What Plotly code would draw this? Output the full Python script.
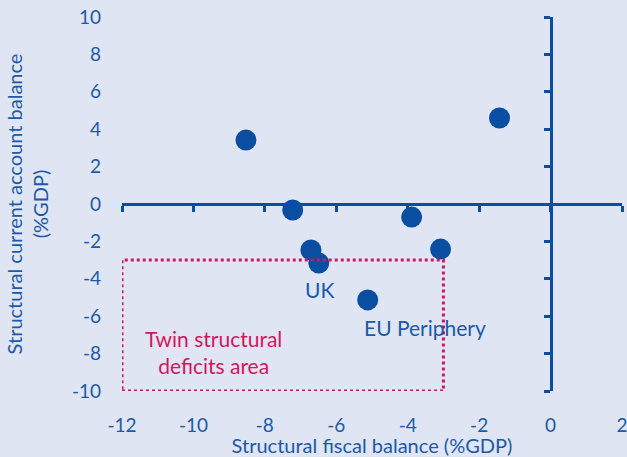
import plotly.graph_objects as go

# Data
fiscal_balance = [-8.53, -7.22, -6.71, -6.49, -5.12, -3.89, -3.08, -1.43]
current_account = [3.42, -0.32, -2.46, -3.16, -5.13, -0.70, -2.41, 4.60]
x_ticks = [-12, -10, -8, -6, -4, -2, 0, 2]
y_ticks = [-10, -8, -6, -4, -2, 0, 2, 4, 6, 8, 10]
x_tick_labels = [str(v) for v in x_ticks]
y_tick_labels = [str(v) for v in y_ticks]
deficit_box_x = [-12, -3]
deficit_box_y = [-10, -3]
labels = ["UK", "EU Periphery", "Twin structural<br>deficits area"]
label_x = [-6.46, -3.52, -9.45]
label_y = [-4.55, -6.63, -7.9]

BLUE = "#0a4ea2"
TEXT = "#1c59a8"
MAG = "#d4165e"
BG = "#dfe5f2"
FONT = "Lato"

fig = go.Figure()
fig.add_trace(go.Scatter(
    x=fiscal_balance, y=current_account, mode="markers",
    marker=dict(size=21, color=BLUE), cliponaxis=False, showlegend=False,
    hoverinfo="x+y"))
# invisible trace on the zero axes
fig.add_trace(go.Scatter(x=[0], y=[0], xaxis="x2", yaxis="y2", mode="markers",
                         marker=dict(opacity=0), showlegend=False, hoverinfo="skip"))

fig.add_shape(type="rect", x0=deficit_box_x[0], x1=deficit_box_x[1],
              y0=deficit_box_y[0], y1=deficit_box_y[1],
              line=dict(color=MAG, width=3, dash="dot"))

colors = [TEXT, TEXT, MAG]
for t, lx, ly, c in zip(labels, label_x, label_y, colors):
    fig.add_annotation(x=lx, y=ly, text=t, showarrow=False,
                       font=dict(size=21, color=c, family=FONT))

xr = [x_ticks[0], x_ticks[-1]]
yr = [y_ticks[0], y_ticks[-1]]
fig.update_layout(
    width=627, height=457,
    margin=dict(l=122, r=5, t=17, b=66),
    paper_bgcolor=BG, plot_bgcolor=BG,
    font=dict(family=FONT, size=19, color=TEXT),
    xaxis=dict(range=xr, tickvals=x_ticks, ticktext=x_tick_labels,
               showgrid=False, zeroline=False, automargin=False,
               showline=False, ticks="", ticklabelstandoff=21,
               ticklabeloverflow="allow",
               title=dict(text="Structural fiscal balance (%GDP)", standoff=1,
                          font=dict(size=20, color=TEXT))),
    yaxis=dict(range=yr, tickvals=y_ticks, ticktext=y_tick_labels,
               showgrid=False, zeroline=False, automargin=False,
               showline=False, ticks="", ticklabelstandoff=20,
               title=dict(text="Structural current account balance<br>(%GDP)",
                          standoff=17, font=dict(size=20, color=TEXT))),
    xaxis2=dict(range=xr, tickvals=x_ticks, overlaying="x", anchor="free",
                position=(0 - yr[0]) / (yr[1] - yr[0]), automargin=False,
                showline=True, linecolor=BLUE, linewidth=3,
                ticks="outside", ticklen=6, tickwidth=3, tickcolor=BLUE,
                showticklabels=False, showgrid=False, zeroline=False),
    yaxis2=dict(range=yr, tickvals=y_ticks, overlaying="y", anchor="free",
                position=(0 - xr[0]) / (xr[1] - xr[0]), automargin=False,
                showline=True, linecolor=BLUE, linewidth=3,
                ticks="outside", ticklen=6, tickwidth=3, tickcolor=BLUE,
                showticklabels=False, showgrid=False, zeroline=False),
)

fig.write_html(
    "out.html",
    config={"displayModeBar": False},
    post_script="document.body.style.margin='0';"
                "document.body.style.background='" + BG + "';",
)
